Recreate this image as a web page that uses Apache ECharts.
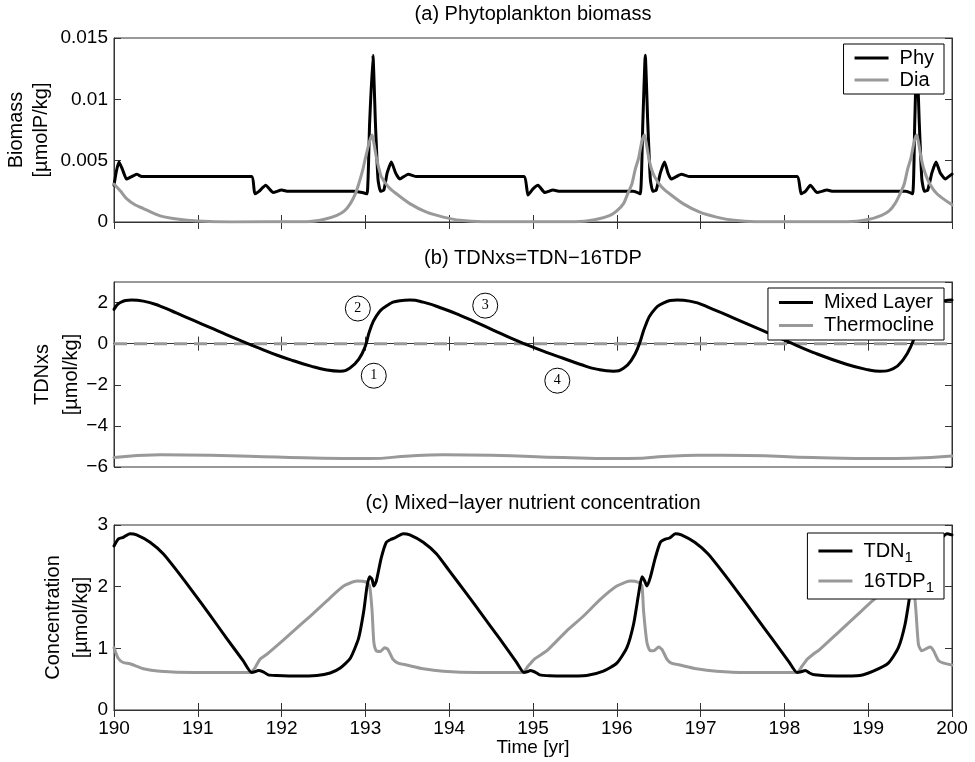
<!DOCTYPE html>
<html>
<head>
<meta charset="utf-8">
<script src="https://cdn.jsdelivr.net/npm/echarts@6/dist/echarts.min.js"></script>
<style>
  html, body { margin: 0; padding: 0; background: #fff; }
  #chart { width: 975px; height: 762px; }
</style>
</head>
<body>
<div id="chart"></div>
<script>
// values, [year, value]
var phy = [[190.00,0.0030],[190.03,0.0042],[190.06,0.0049],[190.10,0.0043],[190.15,0.0035],[190.21,0.0037],[190.27,0.0039],[190.33,0.0037],[190.40,0.0037],
  [191.64,0.0037],[191.68,0.0023],[191.73,0.0025],[191.81,0.0030],[191.90,0.0024],[192.00,0.0026],[192.08,0.0025],[192.86,0.0025],[192.96,0.0024],[193.02,0.0023],
  [193.05,0.0080],[193.09,0.0136],[193.12,0.0080],[193.15,0.0035],[193.18,0.0025],[193.22,0.0026],[193.26,0.0040],[193.31,0.0049],[193.36,0.0040],[193.41,0.0035],[193.51,0.0039],[193.61,0.0037],
  [194.89,0.0037],[194.94,0.0022],[195.00,0.0027],[195.06,0.0030],[195.14,0.0024],[195.24,0.0026],[195.32,0.0025],[196.20,0.0025],[196.28,0.0023],
  [196.31,0.0080],[196.34,0.0136],[196.37,0.0080],[196.40,0.0035],[196.43,0.0025],[196.47,0.0026],[196.52,0.0040],[196.57,0.0049],[196.61,0.0040],[196.65,0.0035],[196.77,0.0039],[196.87,0.0037],
  [198.15,0.0037],[198.20,0.0023],[198.25,0.0025],[198.31,0.0030],[198.39,0.0024],[198.51,0.0026],[198.58,0.0025],[199.45,0.0025],[199.53,0.0023],
  [199.555,0.0080],[199.58,0.0136],[199.61,0.0080],[199.64,0.0035],[199.67,0.0025],[199.71,0.0026],[199.76,0.0040],[199.81,0.0049],[199.86,0.0040],[199.92,0.0035],[199.96,0.0037],[200.00,0.0039]];

var dia = [[190.00,0.0031],[190.08,0.0025],[190.15,0.0019],[190.25,0.0014],[190.35,0.0011],[190.55,0.0005],[190.75,0.00024],[191.00,0.00008],[191.40,0.00001],
  [192.30,0.00002],[192.50,0.0002],[192.66,0.00054],[192.75,0.0009],[192.82,0.0015],[192.88,0.0023],[192.92,0.0031],[192.97,0.0043],[193.00,0.0052],[193.05,0.0066],[193.08,0.0071],
  [193.10,0.0065],[193.13,0.0053],[193.16,0.0044],[193.19,0.0037],[193.27,0.0029],[193.37,0.0023],[193.53,0.0015],[193.73,0.0008],[193.93,0.0004],[194.13,0.00014],[194.40,0.00003],
  [195.50,0.00002],[195.75,0.0002],[195.92,0.00054],[196.00,0.0009],[196.08,0.0015],[196.13,0.0023],[196.18,0.0031],[196.22,0.0043],[196.26,0.0052],[196.30,0.0066],[196.33,0.0071],
  [196.35,0.0065],[196.38,0.0053],[196.41,0.0044],[196.45,0.0037],[196.53,0.0029],[196.63,0.0023],[196.79,0.0015],[196.99,0.0008],[197.19,0.0004],[197.40,0.00014],[197.65,0.00003],
  [198.75,0.00002],[199.00,0.0002],[199.16,0.00054],[199.25,0.0009],[199.32,0.0015],[199.38,0.0023],[199.43,0.0031],[199.47,0.0043],[199.51,0.0052],[199.55,0.0066],[199.58,0.0071],
  [199.60,0.0065],[199.63,0.0053],[199.66,0.0044],[199.72,0.0033],[199.82,0.0023],[200.00,0.0014]];

var mixedLayer = [[190.00,1.67],[190.07,1.99],[190.21,2.12],[190.35,2.07],[190.55,1.83],[190.75,1.48],[190.95,1.13],[191.15,0.78],[191.34,0.44],[191.54,0.10],[191.74,-0.23],
  [191.94,-0.55],[192.14,-0.83],[192.34,-1.08],[192.54,-1.28],[192.70,-1.34],[192.82,-1.17],[192.92,-0.76],[193.00,-0.11],[193.05,0.62],[193.13,1.34],[193.25,1.83],[193.41,2.09],
  [193.53,2.12],[193.69,2.02],[193.93,1.70],[194.13,1.38],[194.33,1.02],[194.53,0.65],[194.73,0.28],[194.93,-0.06],[195.16,-0.42],[195.36,-0.71],[195.56,-1.00],[195.76,-1.24],
  [195.96,-1.34],[196.08,-1.20],[196.18,-0.76],[196.26,-0.11],[196.34,0.86],[196.42,1.51],[196.56,1.99],[196.72,2.12],[196.87,2.07],[197.15,1.67],[197.43,1.18],[197.75,0.62],
  [198.03,0.12],[198.34,-0.42],[198.74,-1.00],[199.00,-1.27],[199.14,-1.34],[199.30,-1.21],[199.42,-0.76],[199.52,-0.03],[199.60,0.90],[199.70,1.60],[199.80,1.95],[199.90,2.08],[200.00,2.12]];

var thermocline = [[190.00,-5.54],[190.55,-5.41],[191.15,-5.43],[191.94,-5.51],[192.74,-5.59],[193.05,-5.59],[193.53,-5.46],[193.93,-5.41],[194.50,-5.43],[195.36,-5.54],
  [195.96,-5.59],[196.30,-5.57],[196.56,-5.49],[196.96,-5.43],[197.55,-5.44],[198.34,-5.54],[199.14,-5.59],[199.50,-5.57],[200.00,-5.46]];

var zeroLine = [[190,0],[200,0]];

var tdn1 = [[190.00,2.66],[190.05,2.77],[190.11,2.80],[190.19,2.86],[190.27,2.84],[190.43,2.72],[190.59,2.53],[190.75,2.26],[190.95,1.90],[191.15,1.53],[191.34,1.17],[191.54,0.80],
  [191.64,0.61],[191.68,0.62],[191.72,0.64],[191.78,0.62],[191.84,0.57],[191.94,0.56],[192.18,0.55],[192.42,0.56],[192.58,0.60],[192.70,0.68],[192.82,0.84],[192.92,1.17],[192.98,1.60],
  [193.02,2.01],[193.05,2.16],[193.08,2.12],[193.10,2.01],[193.13,2.09],[193.19,2.47],[193.25,2.72],[193.31,2.77],[193.35,2.79],[193.45,2.86],[193.53,2.84],[193.69,2.72],[193.85,2.53],
  [194.00,2.26],[194.20,1.90],[194.40,1.53],[194.60,1.16],[194.80,0.78],[194.89,0.61],[194.93,0.62],[194.97,0.64],[195.03,0.61],[195.08,0.57],[195.20,0.555],[195.36,0.55],[195.64,0.56],
  [195.84,0.63],[196.00,0.76],[196.12,1.01],[196.20,1.39],[196.26,1.88],[196.30,2.16],[196.33,2.10],[196.36,2.01],[196.40,2.15],[196.46,2.47],[196.52,2.72],[196.58,2.77],[196.63,2.79],
  [196.70,2.86],[196.77,2.84],[196.93,2.72],[197.09,2.53],[197.25,2.26],[197.45,1.90],[197.65,1.53],[197.85,1.16],[198.05,0.79],[198.15,0.61],[198.20,0.62],[198.25,0.64],[198.30,0.60],
  [198.36,0.57],[198.62,0.55],[198.90,0.56],[199.06,0.63],[199.24,0.76],[199.36,1.01],[199.44,1.39],[199.50,1.88],[199.54,2.16],[199.57,2.10],[199.60,2.01],[199.64,2.15],[199.70,2.47],
  [199.76,2.72],[199.82,2.77],[199.87,2.79],[199.94,2.86],[200.00,2.84]];

var tdp16 = [[190.00,1.01],[190.05,0.84],[190.11,0.77],[190.19,0.75],[190.35,0.67],[190.55,0.63],[190.95,0.61],[191.62,0.61],[191.68,0.68],[191.74,0.82],[191.82,0.90],[191.90,0.99],
  [192.14,1.28],[192.34,1.52],[192.54,1.77],[192.74,2.01],[192.90,2.09],[193.00,2.08],[193.05,2.01],[193.08,1.60],[193.10,1.11],[193.13,0.96],[193.18,0.95],[193.23,1.01],[193.27,0.98],
  [193.33,0.82],[193.39,0.76],[193.49,0.73],[193.69,0.67],[193.93,0.63],[194.33,0.61],[194.88,0.61],[194.94,0.71],[195.02,0.83],[195.10,0.90],[195.18,0.98],[195.40,1.28],[195.60,1.52],
  [195.80,1.79],[196.00,2.01],[196.16,2.09],[196.26,2.07],[196.30,2.01],[196.32,1.60],[196.36,1.09],[196.40,0.96],[196.44,0.96],[196.50,1.02],[196.54,0.98],[196.60,0.82],[196.65,0.76],
  [196.75,0.73],[196.95,0.67],[197.19,0.63],[197.55,0.61],[198.15,0.61],[198.21,0.71],[198.27,0.82],[198.34,0.90],[198.42,0.98],[198.66,1.28],[198.86,1.53],[199.06,1.78],[199.26,2.01],
  [199.42,2.09],[199.50,2.07],[199.54,2.01],[199.57,1.60],[199.60,1.06],[199.64,0.96],[199.70,1.00],[199.74,1.02],[199.78,0.96],[199.84,0.80],[199.90,0.76],[200.00,0.73]];

// circled phase markers in panel (b): [year, value, label]
var phaseMarks = [[193.10,-1.56,'1'],[192.91,1.71,'2'],[194.43,1.85,'3'],[195.29,-1.80,'4']];

var panelTitles = ['(a) Phytoplankton biomass', '(b) TDNxs=TDN\u221216TDP', '(c) Mixed\u2212layer nutrient concentration'];
var yNames = ['Biomass\n[\u00b5molP/kg]', 'TDNxs\n[\u00b5mol/kg]', 'Concentration\n[\u00b5mol/kg]'];
var yRanges = [[0, 0.015, 0.005], [-6, 3, 2], [0, 3, 1]];

var FONT = 'Liberation Sans, Arial, Helvetica, sans-serif';
var BLACK = '#000000', GREY = '#999999', FRAME = '#333333';

var grids = [
  {left: 114, right: 23, top: 38, height: 184},
  {left: 114, right: 23, top: 282, height: 185},
  {left: 114, right: 23, top: 525, height: 185}
];
grids.forEach(function (g) { g.outerBoundsMode = 'none'; g.show = true; g.borderColor = FRAME; g.borderWidth = 1; });

function minus(v) { return String(v).replace('-', '\u2212'); }

var nameGaps = [60, 28, 19], nameLines = [25, 29, 28];
var xAxes = [], yAxes = [];
for (var i = 0; i < 3; i++) {
  xAxes.push({
    type: 'value', gridIndex: i, min: 190, max: 200, interval: 1, position: 'bottom',
    axisLine: {show: true, lineStyle: {color: FRAME, width: 1}},
    axisTick: {inside: true, length: 7, lineStyle: {color: FRAME}},
    axisLabel: {show: i === 2, color: '#000', fontFamily: FONT, fontSize: 19, margin: 9},
    splitLine: {show: false},
    name: i === 2 ? 'Time [yr]' : '', nameLocation: 'middle', nameGap: 28, nameMoveOverlap: false,
    nameTextStyle: {color: '#000', fontFamily: FONT, fontSize: 19}
  });
  yAxes.push({
    type: 'value', gridIndex: i, min: yRanges[i][0], max: yRanges[i][1], interval: yRanges[i][2], position: 'left',
    axisLine: {show: true, lineStyle: {color: FRAME, width: 1}},
    axisTick: {inside: true, length: 7, lineStyle: {color: FRAME}},
    axisLabel: {color: '#000', fontFamily: FONT, fontSize: 19, margin: 6, showMaxLabel: i !== 1, formatter: minus},
    splitLine: {show: false},
    name: yNames[i], nameLocation: 'middle', nameRotate: 90, nameGap: nameGaps[i], nameMoveOverlap: false,
    nameTextStyle: {color: '#000', fontFamily: FONT, fontSize: 20, lineHeight: nameLines[i]}
  });
}
for (var j = 0; j < 3; j++) {
  xAxes.push({
    type: 'value', gridIndex: j, min: 190, max: 200, interval: 1, position: 'top',
    axisLine: {show: true, lineStyle: {color: FRAME}},
    axisTick: {inside: true, length: 7, lineStyle: {color: FRAME}},
    axisLabel: {show: false}, splitLine: {show: false}
  });
  yAxes.push({
    type: 'value', gridIndex: j, min: yRanges[j][0], max: yRanges[j][1], interval: yRanges[j][2], position: 'right',
    axisLine: {show: true, lineStyle: {color: FRAME}},
    axisTick: {inside: true, length: 7, lineStyle: {color: FRAME}},
    axisLabel: {show: false}, splitLine: {show: false}
  });
}

function lineSeries(name, data, idx, color, extra) {
  var s = {
    name: name, type: 'line', data: data, xAxisIndex: idx, yAxisIndex: idx,
    showSymbol: false, symbol: 'none', smooth: 0.3,
    color: color, lineStyle: {color: color, width: 3, join: 'round', cap: 'round'}, silent: true
  };
  for (var k in extra) s[k] = extra[k];
  return s;
}

var legendBase = {
  orient: 'vertical', right: 31, icon: 'rect', itemWidth: 34, itemHeight: 3, itemGap: 0,
  backgroundColor: '#fff', borderColor: '#000', borderWidth: 1,
  textStyle: {color: '#000', fontFamily: FONT, fontSize: 20, lineHeight: 22, padding: [0, 0, 0, 6]}
};
function legendAt(top, names, pad, lh) {
  var l = JSON.parse(JSON.stringify(legendBase));
  l.top = top; l.data = names; l.padding = pad;
  l.textStyle.lineHeight = lh;
  return l;
}
var legendC = legendAt(533, ['TDN_1', '16TDP_1'], [3, 10, 3, 11], 30);
legendC.formatter = function (n) { return n.replace('_1', '{sub|1}'); };
legendC.textStyle.rich = {sub: {fontFamily: FONT, fontSize: 15, color: '#000', padding: [14, 0, 0, 0]}};

var option = {
  animation: false,
  backgroundColor: '#fff',
  title: panelTitles.map(function (t, i) {
    return {text: t, left: 533, textAlign: 'center', top: [4, 248, 493][i], padding: 0,
      textStyle: {color: '#000', fontFamily: FONT, fontSize: 20, fontWeight: 'normal'}};
  }),
  grid: grids,
  xAxis: xAxes,
  yAxis: yAxes,
  legend: [
    legendAt(44, ['Phy', 'Dia'], [3, 10, 3, 11], 22),
    legendAt(288, ['Mixed Layer', 'Thermocline'], [3, 10, 3, 11], 23),
    legendC
  ],
  series: [
    lineSeries('Phy', phy, 0, BLACK, {smooth: 0.15}),
    lineSeries('Dia', dia, 0, GREY, {smooth: 0.25}),
    lineSeries('zero', zeroLine, 1, GREY, {smooth: false, lineStyle: {color: GREY, width: 3, type: [13, 7]}}),
    lineSeries('Thermocline', thermocline, 1, GREY, {smooth: 0.5}),
    lineSeries('Mixed Layer', mixedLayer, 1, BLACK, {smooth: 0.5}),
    {
      type: 'scatter', xAxisIndex: 1, yAxisIndex: 1, data: phaseMarks, silent: true, z: 5,
      symbol: 'circle', symbolSize: 25,
      itemStyle: {color: '#fff', borderColor: '#000', borderWidth: 1, opacity: 1},
      label: {show: true, position: 'inside', formatter: function (p) { return p.data[2]; },
        color: '#000', fontFamily: 'Liberation Serif, Times New Roman, serif', fontSize: 14}
    },
    lineSeries('16TDP_1', tdp16, 2, GREY, {smooth: 0.2}),
    lineSeries('TDN_1', tdn1, 2, BLACK, {smooth: 0.2})
  ]
};

var myChart = echarts.init(document.getElementById('chart'), null, {renderer: 'canvas'});
myChart.setOption(option);
</script>
</body>
</html>
